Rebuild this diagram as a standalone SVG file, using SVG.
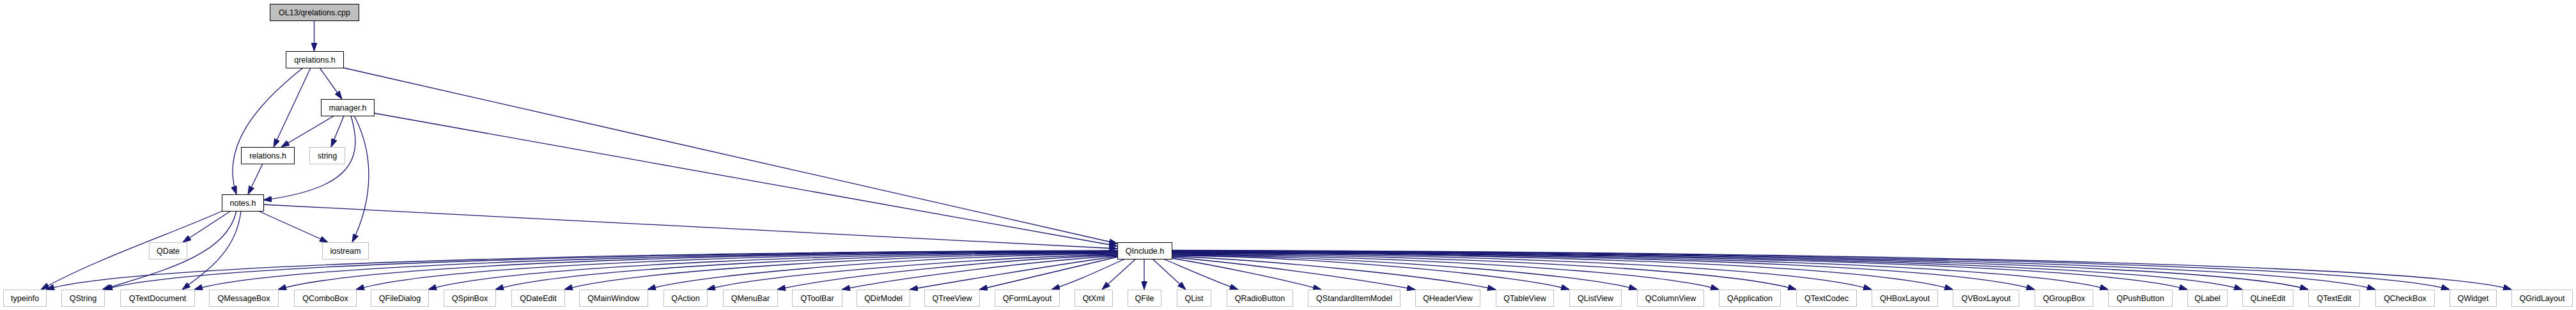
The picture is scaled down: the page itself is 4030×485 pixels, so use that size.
<svg xmlns="http://www.w3.org/2000/svg" width="4030" height="485" viewBox="0 0 4030 485">
<defs>
<style>
rect{fill:#fff;stroke-width:1}
.b{stroke:#000}
.g{stroke:#bfbfbf}
.root{fill:#bfbfbf;stroke:#000}
text{font-family:"Liberation Sans",Arial,sans-serif;font-size:12.5px;fill:#000;text-anchor:middle}
.e path{fill:none;stroke:#191970;stroke-width:1.3;marker-end:url(#a)}
</style>
<marker id="a" markerUnits="userSpaceOnUse" markerWidth="13" markerHeight="9" refX="13" refY="4.5" orient="auto"><path d="M0,0 L13,4.5 L0,9 z" fill="#191970" stroke="#191970" stroke-width="1"/></marker>
</defs>
<rect x="0" y="0" width="4030" height="485" style="fill:#fff;stroke:none"/>
<g class="e" id="connectors">
<path d="M491.5,32 L491.5,80"/>
<path d="M500,106 L535,155"/>
<path d="M486,106 L428,230"/>
<path d="M474,106 C400,165 345,230 370,304"/>
<path d="M537,106 L1748,381"/>
<path d="M523,181 L440,230"/>
<path d="M538,181 L518,230"/>
<path d="M549,181 C568,245 555,295 412,313"/>
<path d="M554,181 C585,240 585,310 551,379"/>
<path d="M585,177 L1748,385"/>
<path d="M411,256 L388,304"/>
<path d="M412,320 L1748,389"/>
<path d="M348,330 C270,365 150,405 64,453"/>
<path d="M361,330 L286,379"/>
<path d="M370,330 C355,395 270,420 160,453"/>
<path d="M377,330 C370,390 330,420 285,453"/>
<path d="M404,330 L513,379"/>
<path d="M1748,392 C1161,393 222,408 72,453"/>
<path d="M1748,392.5 C1193,393.5 313,408 163,453"/>
<path d="M1748,393 C1243,394 454,408 304,453"/>
<path d="M1748,393.5 C1288,394.5 585,408 435,453"/>
<path d="M1748,394 C1331,395 700,410 557,453"/>
<path d="M1748,394.5 C1371,395.5 799,414 670,453"/>
<path d="M1748,395 C1407,396 892,418 775,453"/>
<path d="M1748,396 C1445,397 987,422 883,453"/>
<path d="M1748,397 C1491,398 1101,426.5 1013,453"/>
<path d="M1748,398 C1560,402 1200,428 1106,453"/>
<path d="M1748,399 C1580,405 1320,430 1216,453"/>
<path d="M1748,400 C1600,410 1400,436 1317,453"/>
<path d="M1748,401 C1640,416 1480,443 1423,453"/>
<path d="M1748,402 L1532,453"/>
<path d="M1760,405 C1720,423 1685,440 1645,453"/>
<path d="M1777,405 L1724,453"/>
<path d="M1790,405 L1790,453"/>
<path d="M1803,405 L1855,453"/>
<path d="M1820,405 C1860,422 1900,440 1937,453"/>
<path d="M1833,404 C1900,415 2000,435 2067,453"/>
<path d="M1833,402.5 C1950,412 2130,437 2214,453"/>
<path d="M1833,401 C1990,407 2250,433 2340,453"/>
<path d="M1833,400 C2051,401 2380,430.6 2455,453"/>
<path d="M1833,399 C2088,400 2474,426.8 2561,453"/>
<path d="M1833,398 C2133,399 2586,422.2 2689,453"/>
<path d="M1833,397 C2175,398 2693,417.8 2810,453"/>
<path d="M1833,396 C2216,397 2797,413.6 2928,453"/>
<path d="M1833,395.5 C2261,396.5 2908,409 3055,453"/>
<path d="M1833,395 C2306,396 3033,408 3183,453"/>
<path d="M1833,394.5 C2346,395.5 3148,408 3298,453"/>
<path d="M1833,394 C2389,395 3272,408 3422,453"/>
<path d="M1833,393.5 C2419,394.5 3358,408 3508,453"/>
<path d="M1833,393 C2455,394 3461,408 3611,453"/>
<path d="M1833,392.5 C2492,393.5 3566,408 3716,453"/>
<path d="M1833,392 C2533,393 3682,408 3832,453"/>
<path d="M1833,391.5 C2567,392.5 3779,408 3929,453"/>
</g>
<g id="n_qrelations_cpp"><rect class="root" x="422.5" y="6.5" width="139" height="26"/><text x="492" y="24">OL13/qrelations.cpp</text></g>
<g id="n_qrelations_h"><rect class="b" x="447.5" y="80.5" width="90" height="26"/><text x="492.5" y="98">qrelations.h</text></g>
<g id="n_manager_h"><rect class="b" x="502.5" y="155.5" width="83" height="26"/><text x="544" y="173">manager.h</text></g>
<g id="n_relations_h"><rect class="b" x="377.5" y="230.5" width="83" height="26"/><text x="419" y="248">relations.h</text></g>
<g id="n_string"><rect class="g" x="484.5" y="230.5" width="55" height="26"/><text x="512" y="248">string</text></g>
<g id="n_notes_h"><rect class="b" x="347.5" y="304.5" width="65" height="26"/><text x="380" y="322">notes.h</text></g>
<g id="n_QDate"><rect class="g" x="233.5" y="379.5" width="59" height="26"/><text x="263" y="397">QDate</text></g>
<g id="n_iostream"><rect class="g" x="504.5" y="379.5" width="72" height="26"/><text x="540.5" y="397">iostream</text></g>
<g id="n_QInclude_h"><rect class="b" x="1748.5" y="379.5" width="85" height="26"/><text x="1791" y="397">QInclude.h</text></g>
<g id="n_typeinfo"><rect class="g" x="5.5" y="453.5" width="67" height="26"/><text x="39" y="471">typeinfo</text></g>
<g id="n_QString"><rect class="g" x="96.5" y="453.5" width="67" height="26"/><text x="130" y="471">QString</text></g>
<g id="n_QTextDocument"><rect class="g" x="188.5" y="453.5" width="116" height="26"/><text x="246.5" y="471">QTextDocument</text></g>
<g id="n_QMessageBox"><rect class="g" x="327.5" y="453.5" width="108" height="26"/><text x="381.5" y="471">QMessageBox</text></g>
<g id="n_QComboBox"><rect class="g" x="460.5" y="453.5" width="97" height="26"/><text x="509" y="471">QComboBox</text></g>
<g id="n_QFileDialog"><rect class="g" x="580.5" y="453.5" width="90" height="26"/><text x="625.5" y="471">QFileDialog</text></g>
<g id="n_QSpinBox"><rect class="g" x="694.5" y="453.5" width="81" height="26"/><text x="735" y="471">QSpinBox</text></g>
<g id="n_QDateEdit"><rect class="g" x="800.5" y="453.5" width="83" height="26"/><text x="842" y="471">QDateEdit</text></g>
<g id="n_QMainWindow"><rect class="g" x="906.5" y="453.5" width="107" height="26"/><text x="960" y="471">QMainWindow</text></g>
<g id="n_QAction"><rect class="g" x="1038.5" y="453.5" width="68" height="26"/><text x="1072.5" y="471">QAction</text></g>
<g id="n_QMenuBar"><rect class="g" x="1131.5" y="453.5" width="85" height="26"/><text x="1174" y="471">QMenuBar</text></g>
<g id="n_QToolBar"><rect class="g" x="1239.5" y="453.5" width="78" height="26"/><text x="1278.5" y="471">QToolBar</text></g>
<g id="n_QDirModel"><rect class="g" x="1340.5" y="453.5" width="83" height="26"/><text x="1382" y="471">QDirModel</text></g>
<g id="n_QTreeView"><rect class="g" x="1446.5" y="453.5" width="86" height="26"/><text x="1489.5" y="471">QTreeView</text></g>
<g id="n_QFormLayout"><rect class="g" x="1556.5" y="453.5" width="101" height="26"/><text x="1607" y="471">QFormLayout</text></g>
<g id="n_QtXml"><rect class="g" x="1681.5" y="453.5" width="59" height="26"/><text x="1711" y="471">QtXml</text></g>
<g id="n_QFile"><rect class="g" x="1764.5" y="453.5" width="52" height="26"/><text x="1790.5" y="471">QFile</text></g>
<g id="n_QList"><rect class="g" x="1841.5" y="453.5" width="53" height="26"/><text x="1868" y="471">QList</text></g>
<g id="n_QRadioButton"><rect class="g" x="1919.5" y="453.5" width="103" height="26"/><text x="1971" y="471">QRadioButton</text></g>
<g id="n_QStandardItemModel"><rect class="g" x="2046.5" y="453.5" width="144" height="26"/><text x="2118.5" y="471">QStandardItemModel</text></g>
<g id="n_QHeaderView"><rect class="g" x="2214.5" y="453.5" width="101" height="26"/><text x="2265" y="471">QHeaderView</text></g>
<g id="n_QTableView"><rect class="g" x="2340.5" y="453.5" width="90" height="26"/><text x="2385.5" y="471">QTableView</text></g>
<g id="n_QListView"><rect class="g" x="2455.5" y="453.5" width="81" height="26"/><text x="2496" y="471">QListView</text></g>
<g id="n_QColumnView"><rect class="g" x="2561.5" y="453.5" width="104" height="26"/><text x="2613.5" y="471">QColumnView</text></g>
<g id="n_QApplication"><rect class="g" x="2689.5" y="453.5" width="96" height="26"/><text x="2737.5" y="471">QApplication</text></g>
<g id="n_QTextCodec"><rect class="g" x="2810.5" y="453.5" width="94" height="26"/><text x="2857.5" y="471">QTextCodec</text></g>
<g id="n_QHBoxLayout"><rect class="g" x="2928.5" y="453.5" width="103" height="26"/><text x="2980" y="471">QHBoxLayout</text></g>
<g id="n_QVBoxLayout"><rect class="g" x="3055.5" y="453.5" width="103" height="26"/><text x="3107" y="471">QVBoxLayout</text></g>
<g id="n_QGroupBox"><rect class="g" x="3183.5" y="453.5" width="91" height="26"/><text x="3229" y="471">QGroupBox</text></g>
<g id="n_QPushButton"><rect class="g" x="3298.5" y="453.5" width="100" height="26"/><text x="3348.5" y="471">QPushButton</text></g>
<g id="n_QLabel"><rect class="g" x="3422.5" y="453.5" width="62" height="26"/><text x="3453.5" y="471">QLabel</text></g>
<g id="n_QLineEdit"><rect class="g" x="3508.5" y="453.5" width="79" height="26"/><text x="3548" y="471">QLineEdit</text></g>
<g id="n_QTextEdit"><rect class="g" x="3611.5" y="453.5" width="80" height="26"/><text x="3651.5" y="471">QTextEdit</text></g>
<g id="n_QCheckBox"><rect class="g" x="3716.5" y="453.5" width="92" height="26"/><text x="3762.5" y="471">QCheckBox</text></g>
<g id="n_QWidget"><rect class="g" x="3832.5" y="453.5" width="73" height="26"/><text x="3869" y="471">QWidget</text></g>
<g id="n_QGridLayout"><rect class="g" x="3929.5" y="453.5" width="95" height="26"/><text x="3977" y="471">QGridLayout</text></g>
</svg>
